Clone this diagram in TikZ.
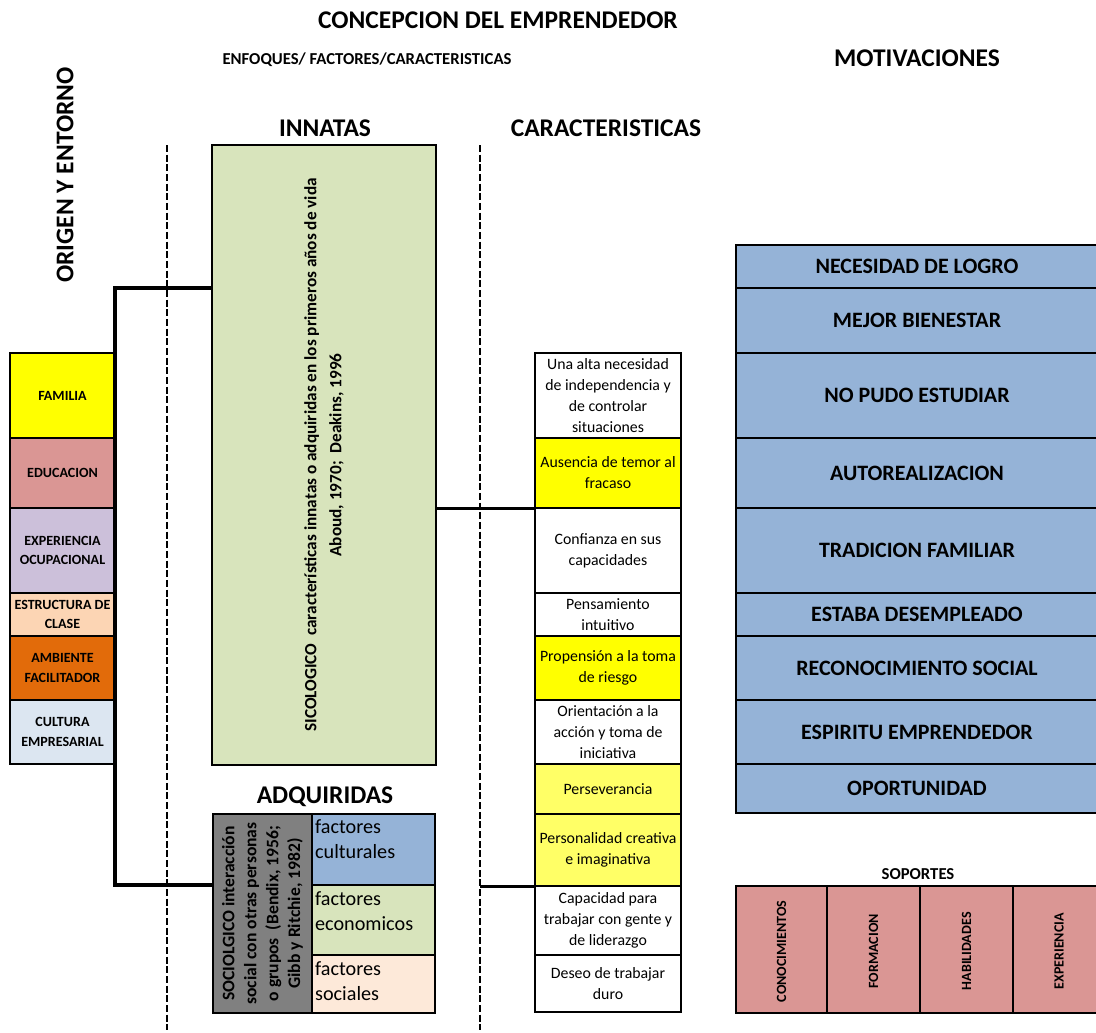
\documentclass[tikz,border=0pt]{standalone}
\usepackage{fontspec}
\setmainfont{Carlito}
\usetikzlibrary{calc}

\definecolor{amarillo}{HTML}{FFFF00}
\definecolor{amarillocl}{HTML}{FFFF66}
\definecolor{rosa}{HTML}{DA9694}
\definecolor{lila}{HTML}{CCC0DA}
\definecolor{durazno}{HTML}{FCD5B4}
\definecolor{naranja}{HTML}{E26B0A}
\definecolor{celeste}{HTML}{DCE6F1}
\definecolor{verde}{HTML}{D8E4BC}
\definecolor{gris}{HTML}{808080}
\definecolor{azul}{HTML}{95B3D7}
\definecolor{salmon}{HTML}{FDE9D9}

\tikzset{
  box/.style={draw, line width=1.6pt, inner sep=1pt, outer sep=0pt, anchor=north west, align=center},
  wh/.style 2 args={minimum width=#1*0.02cm, minimum height=#2*0.02cm},
  head/.style={font=\bfseries\fontsize{14.5}{17}\selectfont},
  origtxt/.style={box, font=\bfseries\fontsize{8}{11.3}\selectfont},
  cartxt/.style={box, font=\fontsize{9}{12}\selectfont},
  mottxt/.style={box, fill=azul, font=\bfseries\fontsize{12.5}{15}\selectfont},
  soptxt/.style={rotate=90, font=\bfseries\fontsize{8}{10}\selectfont},
  factxt/.style={anchor=north west, align=left, inner sep=1pt, font=\fontsize{11.5}{14.2}\selectfont},
  guia/.style={line width=1.1pt, dash pattern=on 4pt off 1.5pt},
  conn/.style={line width=2.8pt},
  connmid/.style={line width=1.7pt}
}

\begin{document}
\begin{tikzpicture}[x=0.02cm, y=-0.02cm]
  \useasboundingbox (0,0) rectangle (1096,1032);
  \clip (0,0) rectangle (1096,1032);

  % titulos
  \node[head] (title) at (498,20) {CONCEPCION DEL EMPRENDEDOR};
  \node[font=\bfseries\fontsize{9.5}{11}\selectfont] (enfoq) at (367,60) {ENFOQUES/ FACTORES/CARACTERISTICAS};
  \node[head] (motiv) at (917,58) {MOTIVACIONES};
  \node[head, rotate=90] (origen) at (65,175) {ORIGEN Y ENTORNO};
  \node[head] (innatas) at (325,128) {INNATAS};
  \node[head] (caract) at (606,128) {CARACTERISTICAS};
  \node[head] (adquir) at (325,797) {ADQUIRIDAS};
  \node[font=\bfseries\fontsize{9.5}{11}\selectfont] (soport) at (918,874) {SOPORTES};

  % lineas guia
  \coordinate (guiaA1) at (167,145);
  \coordinate (guiaA2) at (167,1030);
  \coordinate (guiaB1) at (480,145);
  \coordinate (guiaB2) at (480,1030);
  \draw[guia] (guiaA1) -- (guiaA2);
  \draw[guia] (guiaB1) -- (guiaB2);

  % origen y entorno
  \node[origtxt, fill=amarillo, wh={105}{85}] (fam) at (10,353) {FAMILIA};
  \node[origtxt, fill=rosa, wh={105}{70}] (edu) at (10,438) {EDUCACION};
  \node[origtxt, fill=lila, wh={105}{85}] (expe) at (10,508) {EXPERIENCIA\\OCUPACIONAL};
  \node[origtxt, fill=durazno, wh={105}{43}] (estr) at (10,593) {ESTRUCTURA DE\\CLASE};
  \node[origtxt, fill=naranja, wh={105}{64}] (amb) at (10,636) {AMBIENTE\\FACILITADOR};
  \node[origtxt, fill=celeste, wh={105}{64}] (cult) at (10,700) {CULTURA\\EMPRESARIAL};

  % innatas
  \node[box, fill=verde, wh={224}{620}] (innata) at (212,145) {};
  \node[rotate=90, align=center, font=\bfseries\fontsize{9.8}{14.2}\selectfont] (innatatxt) at (innata.center)
    {SICOLOGICO\ \ características innatas o adquiridas en los primeros años de vida\\Aboud, 1970;\ \ Deakins, 1996};

  % adquiridas
  \node[box, fill=gris, wh={99}{199}] (socio) at (213,814) {};
  \node[rotate=90, align=center, font=\bfseries\fontsize{10}{12.5}\selectfont] (sociotxt) at (socio.center)
    {SOCIOLGICO interacción\\social con otras personas\\o grupos\ \ (Bendix, 1956;\\Gibb y Ritchie, 1982)};
  \node[box, fill=azul, wh={123}{71}] (fac1) at (312,814) {};
  \node[box, fill=verde, wh={123}{70}] (fac2) at (312,885) {};
  \node[box, fill=salmon, wh={123}{58}] (fac3) at (312,955) {};
  \node[factxt] (fac1txt) at ([shift={(1,4)}]fac1.north west) {factores\\culturales};
  \node[factxt] (fac2txt) at ([shift={(1,5)}]fac2.north west) {factores\\economicos};
  \node[factxt] (fac3txt) at ([shift={(1,5)}]fac3.north west) {factores\\sociales};

  % caracteristicas
  \node[cartxt, wh={146}{85}] (car1) at (535,353) {Una alta necesidad\\de independencia y\\de controlar\\situaciones};
  \node[cartxt, fill=amarillo, wh={146}{70}] (car2) at (535,438) {Ausencia de temor al\\fracaso};
  \node[cartxt, wh={146}{85}] (car3) at (535,508) {Confianza en sus\\capacidades};
  \node[cartxt, wh={146}{43}] (car4) at (535,593) {Pensamiento\\intuitivo};
  \node[cartxt, fill=amarillo, wh={146}{64}] (car5) at (535,636) {Propensión a la toma\\de riesgo};
  \node[cartxt, wh={146}{64}] (car6) at (535,700) {Orientación a la\\acción y toma de\\iniciativa};
  \node[cartxt, fill=amarillocl, wh={146}{50}] (car7) at (535,764) {Perseverancia};
  \node[cartxt, fill=amarillocl, wh={146}{72}] (car8) at (535,814) {Personalidad creativa\\e imaginativa};
  \node[cartxt, wh={146}{69}] (car9) at (535,886) {Capacidad para\\trabajar con gente y\\de liderazgo};
  \node[cartxt, wh={146}{57}] (car10) at (535,955) {Deseo de trabajar\\duro};

  % motivaciones
  \node[mottxt, wh={362}{43}] (mot1) at (736,245) {NECESIDAD DE LOGRO};
  \node[mottxt, wh={362}{65}] (mot2) at (736,288) {MEJOR BIENESTAR};
  \node[mottxt, wh={362}{85}] (mot3) at (736,353) {NO PUDO ESTUDIAR};
  \node[mottxt, wh={362}{70}] (mot4) at (736,438) {AUTOREALIZACION};
  \node[mottxt, wh={362}{85}] (mot5) at (736,508) {TRADICION FAMILIAR};
  \node[mottxt, wh={362}{43}] (mot6) at (736,593) {ESTABA DESEMPLEADO};
  \node[mottxt, wh={362}{64}] (mot7) at (736,636) {RECONOCIMIENTO SOCIAL};
  \node[mottxt, wh={362}{64}] (mot8) at (736,700) {ESPIRITU EMPRENDEDOR};
  \node[mottxt, wh={362}{49}] (mot9) at (736,764) {OPORTUNIDAD};

  % soportes
  \node[box, fill=rosa, wh={91}{127}] (sop1) at (736,886) {};
  \node[box, fill=rosa, wh={93}{127}] (sop2) at (827,886) {};
  \node[box, fill=rosa, wh={93}{127}] (sop3) at (920,886) {};
  \node[box, fill=rosa, wh={92}{127}] (sop4) at (1013,886) {};
  \node[soptxt] (sop1txt) at ([yshift=-1]sop1.center) {CONOCIMIENTOS};
  \node[soptxt] (sop2txt) at ([yshift=-1]sop2.center) {FORMACION};
  \node[soptxt] (sop3txt) at ([yshift=-1]sop3.center) {HABILIDADES};
  \node[soptxt] (sop4txt) at ([yshift=-1]sop4.center) {EXPERIENCIA};

  % conectores
  \coordinate (unionA) at (115,288);
  \coordinate (unionB) at (115,885);
  \draw[conn] (innata.west |- unionA) -- (unionA) -- (unionB) -- (socio.west |- unionB);
  \draw[connmid] (innata.east |- car2.south) -- (car2.south west);
  \draw[connmid] (guiaB1 |- car8.south) -- (car8.south west);
\end{tikzpicture}
\end{document}
